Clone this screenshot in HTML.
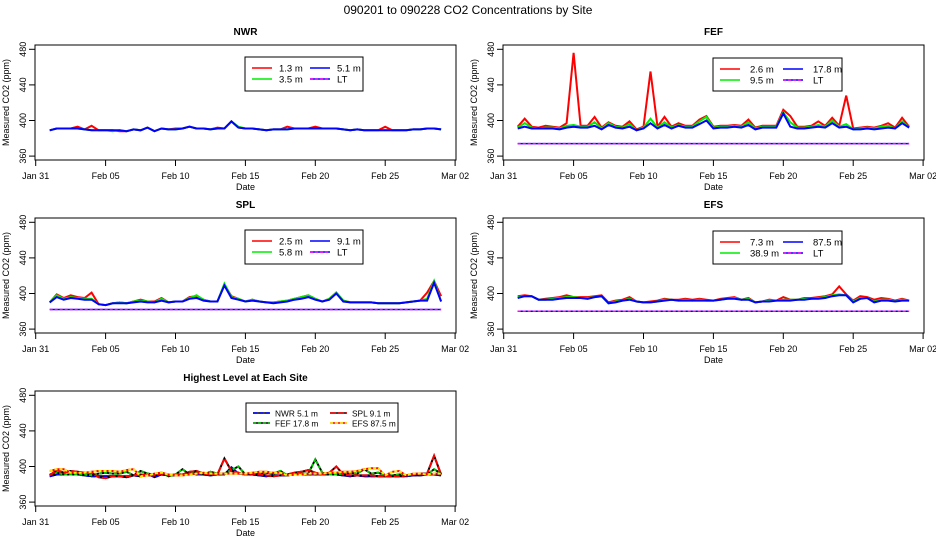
<!DOCTYPE html>
<html><head><meta charset="utf-8"><style>
html,body{margin:0;padding:0;background:#fff}
svg{display:block;font-family:"Liberation Sans",Arial,sans-serif}
</style></head><body>
<svg id="chart" width="936" height="540" viewBox="0 0 936 540">
<text x="468" y="14" text-anchor="middle" font-size="12">090201  to  090228 CO2 Concentrations by Site</text>
</svg>
<script>
// Day-of-period samples: Feb 1 .. Mar 1, twice daily
const xTickLabels = ["Jan 31","Feb 05","Feb 10","Feb 15","Feb 20","Feb 25","Mar 02"];
const xTickDays = [0,5,10,15,20,25,30];
const yTicks = [360,400,440,480];

const nwrBlue = [389,391,391,391,391,390,389,389,389,389,389,388,390,389,392,388,391,390,390,391,393,391,391,390,391,391,399,392,391,391,390,389,390,390,390,391,391,391,391,391,391,391,390,389,390,389,389,389,389,389,389,389,390,390,391,391,390];
const nwrRed  = [389,391,391,391,393,390,394,389,389,389,388,388,390,389,392,388,391,390,391,391,393,391,391,390,392,391,399,392,391,391,390,389,390,390,393,391,391,391,393,391,391,391,390,389,390,389,389,389,393,389,389,389,390,390,391,391,390];
const nwrGreen= [389,391,391,391,391,390,389,389,389,388,389,388,390,389,392,388,391,390,390,391,393,391,391,390,391,391,399,393,391,391,390,389,390,390,390,391,391,391,391,391,391,391,390,389,390,389,389,389,389,389,389,389,390,390,391,391,390];
const nwrLT = [];

const fefBlue = [391,393,391,391,391,391,390,392,393,392,392,394,390,395,392,391,393,389,391,397,391,395,391,394,392,392,396,400,391,392,392,393,392,395,390,392,392,392,408,393,391,391,392,393,392,397,392,393,390,390,391,390,391,392,391,397,392];
const fefGreen= [392,397,392,391,392,392,391,394,395,393,393,398,391,397,393,392,396,389,392,402,392,398,392,395,393,393,399,404,392,393,393,394,393,398,391,393,393,393,409,398,392,392,393,395,393,400,393,396,390,391,392,391,393,394,391,399,392];
const fefRed  = [393,402,393,392,394,393,392,397,476,394,394,404,392,398,394,393,399,390,393,455,393,404,393,397,394,394,401,405,393,394,394,395,394,401,392,394,394,394,412,405,393,393,394,399,394,403,394,428,391,392,393,392,394,397,392,403,393];
const fefLT = [374,374,374,374,374,374,374,374,374,374,374,374,374,374,374,374,374,374,374,374,374,374,374,374,374,374,374,374,374,374,374,374,374,374,374,374,374,374,374,374,374,374,374,374,374,374,374,374,374,374,374,374,374,374,374,374,374];

const splBlue = [390,396,393,395,394,393,393,388,387,389,389,389,390,391,390,390,392,390,391,391,394,395,392,391,391,409,395,393,391,392,391,390,389,390,391,393,394,396,393,391,393,400,391,390,390,390,390,389,389,389,389,390,391,392,392,412,391];
const splGreen= [390,398,394,396,395,394,394,388,387,389,390,389,391,392,391,390,394,390,391,391,395,398,393,391,391,411,396,394,391,393,391,390,390,391,392,394,396,398,394,391,394,401,392,390,390,390,390,389,389,389,389,390,391,392,394,414,391];
const splRed  = [390,399,395,398,396,395,401,388,387,389,390,389,391,393,391,391,395,390,391,391,396,397,393,391,391,410,397,394,391,393,391,390,390,391,392,394,396,398,394,391,394,401,392,390,390,390,390,389,389,389,389,390,391,392,401,414,397];
const splLT = [382,382,382,382,382,382,382,382,382,382,382,382,382,382,382,382,382,382,382,382,382,382,382,382,382,382,382,382,382,382,382,382,382,382,382,382,382,382,382,382,382,382,382,382,382,382,382,382,382,382,382,382,382,382,382,382,382];

const efsBlue = [395,397,397,393,393,393,394,395,395,395,394,396,397,389,390,392,393,391,390,390,391,392,393,392,392,392,392,392,392,393,394,394,393,393,390,391,391,392,392,392,393,393,394,394,395,397,398,398,390,394,395,390,392,392,391,392,392];
const efsGreen= [396,397,397,393,393,394,395,396,396,395,395,396,397,389,391,392,394,391,390,390,391,393,393,392,393,392,393,392,392,393,394,395,393,394,390,391,392,392,393,393,393,394,394,395,396,398,399,398,391,395,395,391,393,393,391,393,392];
const efsRed  = [397,398,397,393,394,395,396,398,396,396,396,397,398,390,392,393,396,391,390,391,392,394,393,393,394,393,394,393,392,394,395,396,393,395,390,391,393,392,396,393,393,395,395,396,397,399,408,399,392,397,396,393,395,394,392,394,392];
const efsLT = [380,380,380,380,380,380,380,380,380,380,380,380,380,380,380,380,380,380,380,380,380,380,380,380,380,380,380,380,380,380,380,380,380,380,380,380,380,380,380,380,380,380,380,380,380,380,380,380,380,380,380,380,380,380,380,380,380];

const NS="http://www.w3.org/2000/svg";
const svg=document.getElementById('chart');
function mk(tag,attrs,parent){const e=document.createElementNS(NS,tag);for(const k in attrs)e.setAttribute(k,attrs[k]);(parent||svg).appendChild(e);return e;}

function panel(px,py,title,key,series,legend){
  const g=mk('g',{});
  
  
  const left=px, right=px+421, top=py, bottom=py+115;
  const xs=d=>px+0.7+d*13.98;
  const ys=v=>py+4.3+(480-v)*0.89;
  const t=mk('text',{x:(left+right)/2,y:py-10,'text-anchor':'middle','font-size':10,'font-weight':'bold'},g);t.textContent=title;
  
  
  series.forEach(s=>{
    if(!s.data.length)return;
    const n=s.data.length;
    const pts=s.data.map((v,i)=>xs(1+i*28/(n-1)).toFixed(1)+','+ys(v).toFixed(1)).join(' ');
    if(s.under){const u=mk('polyline',{points:pts,fill:'none',stroke:s.under,'stroke-width':s.w||2},g);
      
      }
    const p=mk('polyline',{points:pts,fill:'none',stroke:s.color,'stroke-width':s.w||2,'stroke-linejoin':'miter'},g);
    if(s.dash)p.setAttribute('stroke-dasharray',s.dash);
    
    
  });
  const box=mk('rect',{x:left,y:top,width:right-left,height:bottom-top,fill:'none',stroke:'#000','stroke-width':1},g);
  
  
  xTickDays.forEach((d,i)=>{
    mk('line',{x1:xs(d),x2:xs(d),y1:bottom,y2:bottom+6,stroke:'#000'},g);
    const tl=mk('text',{x:xs(d),y:bottom+19,'text-anchor':'middle','font-size':9},g);tl.textContent=xTickLabels[i];
    
    
  });
  const xt=mk('text',{x:(left+right)/2,y:bottom+30,'text-anchor':'middle','font-size':9},g);xt.textContent='Date';
  
  
  yTicks.forEach(v=>{
    mk('line',{x1:left-6,x2:left,y1:ys(v),y2:ys(v),stroke:'#000'},g);
    const yl=mk('text',{x:0,y:0,'text-anchor':'middle','font-size':9,transform:`translate(${left-9},${ys(v)}) rotate(-90)`},g);yl.textContent=v;
    
    
  });
  const yt=mk('text',{x:0,y:0,'text-anchor':'middle','font-size':9,transform:`translate(${left-26},${(top+bottom)/2}) rotate(-90)`},g);yt.textContent='Measured CO2 (ppm)';
  
  
  const lg=mk('g',{},g);
  
  
  mk('rect',{x:px+legend.x,y:py+legend.y,width:legend.w,height:legend.h,fill:'#fff',stroke:'#000','stroke-width':1},lg);
  legend.items.forEach((it,i)=>{
    const col=i%2, row=Math.floor(i/2);
    const lx=px+legend.x+7+col*legend.colW, ly=py+legend.y+legend.y0+row*legend.rowH;
    if(it.under)mk('line',{x1:lx,x2:lx+legend.lw,y1:ly,y2:ly,stroke:it.under,'stroke-width':1.5},lg);
    const ln=mk('line',{x1:lx,x2:lx+legend.lw,y1:ly,y2:ly,stroke:it.color,'stroke-width':1.5},lg);
    if(it.dash)ln.setAttribute('stroke-dasharray',it.dash);
    const tx=mk('text',{x:lx+legend.tx,y:ly+3.3,'font-size':legend.fs,'text-anchor':'start'},lg);tx.textContent=it.label;
    
    
  });
}

const narrow={x:210,y:12,w:118,h:34,colW:58,tx:27,lw:20,y0:11,rowH:11,fs:9.5};
const wide={x:210,y:13,w:129,h:33,colW:63,tx:30,lw:20,y0:11,rowH:11,fs:9.5};

panel(35,45,'NWR','nwr',[
 {name:'lt',data:nwrLT,color:'#ff00ff',under:'#0000ff',dash:'3,2',w:1.5},
 {name:'1-3m',data:nwrRed,color:'#ff0000'},
 {name:'3-5m',data:nwrGreen,color:'#00ee00'},
 {name:'5-1m',data:nwrBlue,color:'#0000ff'}],
 Object.assign({},narrow,{items:[{label:'1.3 m',color:'#ff0000'},{label:'5.1 m',color:'#0000ff'},{label:'3.5 m',color:'#00ee00'},{label:'LT',color:'#ff00ff',under:'#0000ff',dash:'3,2'}]}));

panel(503,45,'FEF','fef',[
 {name:'lt',data:fefLT,color:'#ff00ff',under:'#0000ff',dash:'3,2',w:1.5},
 {name:'2-6m',data:fefRed,color:'#ff0000'},
 {name:'9-5m',data:fefGreen,color:'#00ee00'},
 {name:'17-8m',data:fefBlue,color:'#0000ff'}],
 Object.assign({},wide,{items:[{label:'2.6 m',color:'#ff0000'},{label:'17.8 m',color:'#0000ff'},{label:'9.5 m',color:'#00ee00'},{label:'LT',color:'#ff00ff',under:'#0000ff',dash:'3,2'}]}));

panel(35,218,'SPL','spl',[
 {name:'lt',data:splLT,color:'#ff00ff',under:'#0000ff',dash:'3,2',w:1.5},
 {name:'2-5m',data:splRed,color:'#ff0000'},
 {name:'5-8m',data:splGreen,color:'#00ee00'},
 {name:'9-1m',data:splBlue,color:'#0000ff'}],
 Object.assign({},narrow,{items:[{label:'2.5 m',color:'#ff0000'},{label:'9.1 m',color:'#0000ff'},{label:'5.8 m',color:'#00ee00'},{label:'LT',color:'#ff00ff',under:'#0000ff',dash:'3,2'}]}));

panel(503,218,'EFS','efs',[
 {name:'lt',data:efsLT,color:'#ff00ff',under:'#0000ff',dash:'3,2',w:1.5},
 {name:'7-3m',data:efsRed,color:'#ff0000'},
 {name:'38-9m',data:efsGreen,color:'#00ee00'},
 {name:'87-5m',data:efsBlue,color:'#0000ff'}],
 Object.assign({},wide,{items:[{label:'7.3 m',color:'#ff0000'},{label:'87.5 m',color:'#0000ff'},{label:'38.9 m',color:'#00ee00'},{label:'LT',color:'#ff00ff',under:'#0000ff',dash:'3,2'}]}));

panel(35,391,'Highest Level at Each Site','highest',[
 {name:'nwr',data:nwrBlue,color:'#0000ff',under:'#000',dash:'4,2'},
 {name:'fef',data:fefBlue,color:'#00cc00',under:'#000',dash:'3,2'},
 {name:'spl',data:splBlue,color:'#ff0000',under:'#000',dash:'6,2'},
 {name:'efs',data:efsBlue,color:'#ffee00',under:'#ff0000',dash:'3,2'}],
 {x:211,y:12,w:152,h:29,colW:77,tx:22,lw:17,y0:10,rowH:10,fs:8.3,items:[{label:'NWR  5.1 m',color:'#0000ff',under:'#000',dash:'4,2'},{label:'SPL  9.1 m',color:'#ff0000',under:'#000',dash:'6,2'},{label:'FEF  17.8 m',color:'#00cc00',under:'#000',dash:'3,2'},{label:'EFS  87.5 m',color:'#ffee00',under:'#ff0000',dash:'3,2'}]});
</script>
</body></html>
